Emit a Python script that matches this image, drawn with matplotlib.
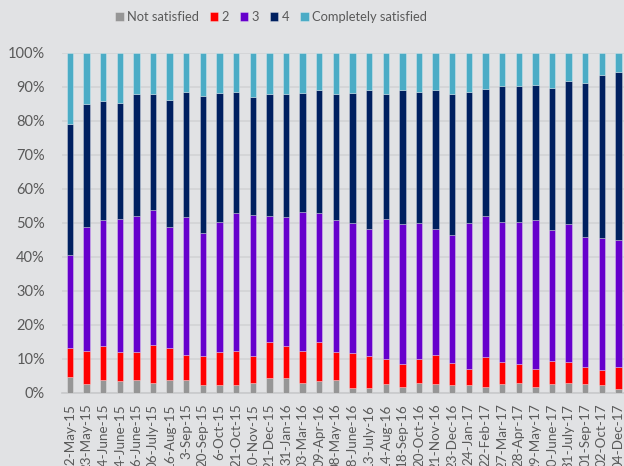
import matplotlib
matplotlib.use('Agg')
import matplotlib.pyplot as plt
import numpy as np

plt.rcParams['font.family'] = ['Lato', 'DejaVu Sans']

dates = ['12-May-15', '23-May-15', '04-June-15', '14-June-15', '26-June-15', '06-July-15',
         '16-Aug-15', '3-Sep-15', '20-Sep-15', '6-Oct-15', '21-Oct-15', '10-Nov-15',
         '21-Dec-15', '31-Jan-16', '03-Mar-16', '09-Apr-16', '08-May-16', '08-June-16',
         '13-July-16', '14-Aug-16', '18-Sep-16', '20-Oct-16', '21-Nov-16', '23-Dec-16',
         '24-Jan-17', '22-Feb-17', '27-Mar-17', '28-Apr-17', '29-May-17', '30-June-17',
         '31-July-17', '01-Sep-17', '02-Oct-17', '04-Dec-17']

# cumulative tops (percent)
top_not = [4.6, 2.6, 3.7, 3.4, 3.7, 2.9, 3.7, 3.7, 2.2, 2.2, 2.2, 2.9, 4.2, 4.2, 2.9, 3.4, 3.7,
           1.3, 1.3, 2.6, 1.6, 2.9, 2.6, 2.2, 2.2, 1.6, 2.6, 2.9, 1.6, 2.6, 2.9, 2.6, 2.2, 0.9]
top_2 = [13.2, 12.3, 13.7, 11.9, 11.9, 14.0, 13.2, 11.1, 10.8, 11.9, 12.3, 10.7, 14.8, 13.8, 12.3, 14.9, 11.9,
         11.5, 10.7, 9.8, 8.3, 9.8, 11.0, 8.6, 7.0, 10.4, 9.1, 8.3, 7.0, 9.4, 9.1, 7.4, 6.5, 7.4]
top_3 = [40.5, 48.7, 50.7, 51.1, 52.0, 53.7, 48.7, 51.7, 47.0, 50.3, 52.9, 52.4, 52.0, 51.7, 53.2, 52.9, 50.8,
         49.8, 48.3, 51.0, 49.5, 49.8, 48.3, 46.4, 49.8, 52.0, 50.2, 50.2, 50.7, 47.9, 49.5, 45.7, 45.4, 45.0]
top_4 = [79.1, 85.0, 85.8, 85.4, 87.8, 87.8, 86.2, 88.6, 87.4, 88.3, 88.6, 87.0, 87.8, 87.8, 88.3, 89.0, 87.8,
         88.3, 89.0, 87.8, 89.0, 88.6, 89.0, 87.8, 88.6, 89.5, 90.3, 90.2, 90.7, 89.8, 91.8, 91.1, 93.6, 94.3]

not_sat = np.array(top_not)
s2 = np.array(top_2) - np.array(top_not)
s3 = np.array(top_3) - np.array(top_2)
s4 = np.array(top_4) - np.array(top_3)
comp = 100 - np.array(top_4)

series = [('Not satisfied', not_sat, '#969696'),
          ('2', s2, '#FF0000'),
          ('3', s3, '#6600CC'),
          ('4', s4, '#002060'),
          ('Completely satisfied', comp, '#4BACC6')]

bg = '#E1E2E4'
txt = '#595959'

fig = plt.figure(figsize=(6.24, 4.66), dpi=100, facecolor=bg)
ax = fig.add_axes([61.6 / 624, 1 - 392.5 / 466, (626.8 - 61.6) / 624, (392.5 - 53) / 466])
ax.set_facecolor(bg)

x = np.arange(len(dates))
bottom = np.zeros(len(dates))
for name, vals, col in series:
    ax.bar(x, vals, 0.38, bottom=bottom, color=col, label=name,
           edgecolor=(1, 1, 1, 0.35), linewidth=0.6, zorder=3)
    bottom += vals

ax.set_xlim(-0.5, len(dates) - 0.5)
ax.set_ylim(0, 100)
ax.set_yticks(np.arange(0, 101, 10))
ax.set_yticklabels(['{}%'.format(v) for v in range(0, 101, 10)])
ax.set_xticks(x)
ax.set_xticklabels(dates, rotation=90)
ax.tick_params(axis='y', length=0, pad=12, labelsize=10.5, labelcolor=txt)
ax.tick_params(axis='x', length=0, pad=8, labelsize=9.7, labelcolor=txt)
ax.grid(axis='y', color='#D2D3D5', linewidth=1.2, zorder=0)
for s in ['top', 'right', 'left']:
    ax.spines[s].set_visible(False)
ax.spines['bottom'].set_color('#C8C9CB')
ax.spines['bottom'].set_linewidth(1.2)

fig.legend(loc='center', bbox_to_anchor=(271 / 624, 1 - 17 / 466), ncol=5, frameon=False,
           fontsize=9.3, labelcolor=txt, handlelength=0.65, handleheight=0.65,
           handletextpad=0.25, columnspacing=0.85, borderaxespad=0)

fig.savefig('out.png', dpi=100, facecolor=bg)
